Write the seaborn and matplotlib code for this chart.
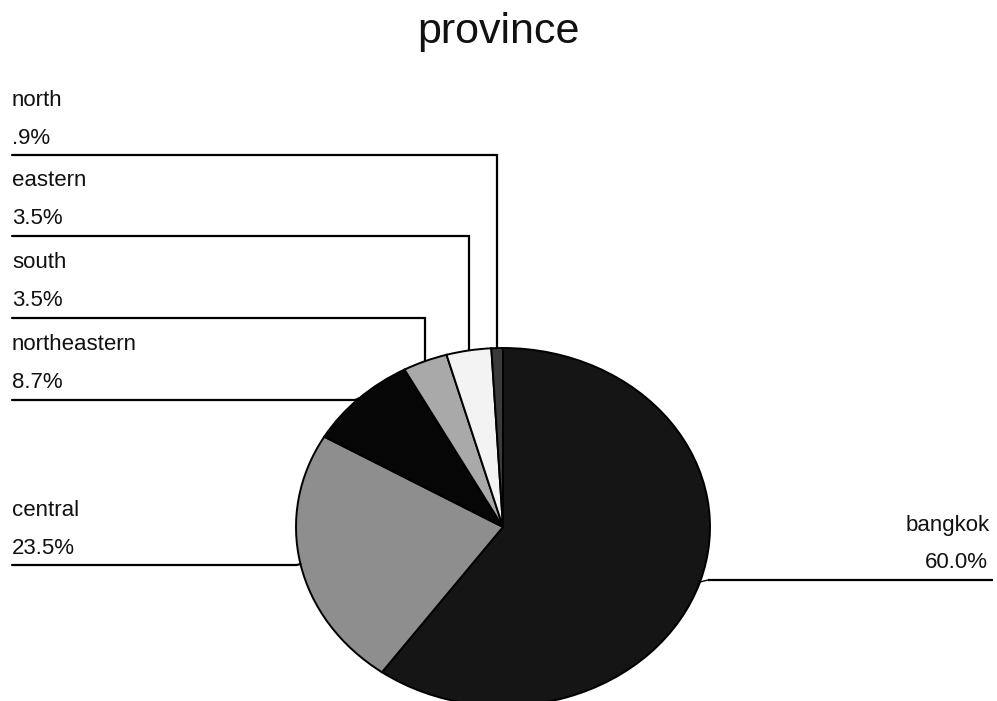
import numpy as np
import matplotlib
matplotlib.use("Agg")
import matplotlib.pyplot as plt
import seaborn as sns

sns.set_theme(style="white")
plt.rcParams["font.family"] = ["Liberation Sans", "DejaVu Sans"]

# Share of respondents by province
regions = ["bangkok", "central", "northeastern", "south", "eastern", "north"]
shares = [60.0, 23.5, 8.7, 3.5, 3.5, 0.9]
share_labels = ["60.0%", "23.5%", "8.7%", "3.5%", "3.5%", ".9%"]
slice_colors = ["#151515", "#8e8e8e", "#060606", "#a9a9a9", "#f3f3f3", "#3a3a3a"]

W, H = 997, 701
fig = plt.figure(figsize=(W / 100, H / 100), dpi=100)
fig.patch.set_facecolor("white")

# Overlay axes in pixel units for the title, labels and leader lines
ax = fig.add_axes([0, 0, 1, 1])
ax.set_xlim(0, W)
ax.set_ylim(H, 0)
ax.axis("off")

# Pie geometry (slightly flattened, as in a tilted view)
cx, cy, rx, ry = 503, 527, 207, 179
pax = fig.add_axes([(cx - rx) / W, (H - cy - ry) / H, 2 * rx / W, 2 * ry / H])
wedges, _ = pax.pie(shares, colors=slice_colors, startangle=90, counterclock=False,
                    radius=1, wedgeprops=dict(edgecolor="black", linewidth=1.4))
pax.set_aspect("auto")
pax.set_xlim(-1, 1)
pax.set_ylim(-1, 1)
pax.axis("off")

ax.set_zorder(2)
ax.patch.set_alpha(0)

ax.text(W / 2, 32, "province", ha="center", va="center", fontsize=31, color="#111111")

# Label rows on the left (top to bottom) and the bangkok label on the right
left_rows = {"north": 155, "eastern": 236, "south": 318, "northeastern": 400, "central": 565}
lw = 1.6
fs = 16
for i, (name, txt) in enumerate(zip(regions, share_labels)):
    w = wedges[i]
    mid = np.deg2rad((w.theta1 + w.theta2) / 2)
    ex = cx + rx * np.cos(mid)
    ey = cy - ry * np.sin(mid)
    if name == "bangkok":
        ly = 580
        ax.plot([ex + 8, 993], [ly, ly], color="black", lw=lw, solid_capstyle="butt")
        ax.plot([ex, ex + 8], [ey, ly], color="black", lw=1.0)
        ax.text(990, ly - 55, name, ha="right", va="center", fontsize=fs, color="#111111")
        ax.text(988, ly - 17, txt, ha="right", va="center", fontsize=fs, color="#111111")
        continue
    ly = left_rows[name]
    if ey > ly + 20:
        # horizontal run, then straight down to the slice
        ax.plot([12, ex, ex], [ly, ly, ey], color="black", lw=lw, solid_joinstyle="miter")
    else:
        ax.plot([12, ex - 4, ex], [ly, ly, ey], color="black", lw=lw)
    ax.text(12, ly - 55, name, ha="left", va="center", fontsize=fs, color="#111111")
    ax.text(12, ly - 17, txt, ha="left", va="center", fontsize=fs, color="#111111")

fig.savefig("out.png", dpi=100, facecolor="white")
